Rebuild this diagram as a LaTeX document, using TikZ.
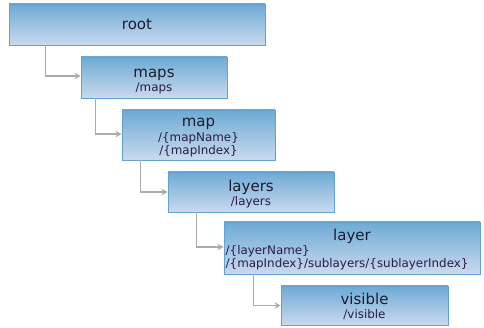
\documentclass[tikz,border=0pt]{standalone}
\usepackage{fontspec}
\setmainfont{DejaVu Sans}
\usetikzlibrary{arrows.meta}
\definecolor{boxtop}{HTML}{6DAAD4}
\definecolor{boxbot}{HTML}{CADAEE}
\definecolor{boxline}{HTML}{62A2D2}
\definecolor{conncol}{HTML}{ABABAB}
\definecolor{titlecol}{HTML}{1C1C30}
\definecolor{subcol}{HTML}{2A1C48}
\tikzset{
  box/.style={draw=boxline, line width=0.9pt, top color=boxtop, bottom color=boxbot, rectangle, inner sep=0pt},
  ttl/.style={font=\fontsize{15}{17}\selectfont, text=titlecol, inner sep=0pt},
  sub/.style={font=\fontsize{11.9}{13}\selectfont, text=subcol, inner sep=0pt, align=center},
  subl/.style={font=\fontsize{11.9}{13}\selectfont, text=subcol, inner sep=0pt, anchor=base west},
  conn/.style={draw=conncol, line width=1.8pt, -{Stealth[length=6pt,width=6.5pt]}},
}
\begin{document}
\begin{tikzpicture}[x=1pt,y=-1pt]
\useasboundingbox (0,0) rectangle (484,328);
\fill[white] (0,0) rectangle (484,328);
% boxes
\node[box, minimum width=256pt, minimum height=41pt] (root) at (137,24.5) {};
\node[box, minimum width=146pt, minimum height=41pt] (maps) at (154,77.5) {};
\node[box, minimum width=153pt, minimum height=50pt] (map) at (198.5,135) {};
\node[box, minimum width=166pt, minimum height=40pt] (layers) at (251,192) {};
\node[box, minimum width=256pt, minimum height=52pt] (layer) at (352,248) {};
\node[box, minimum width=167pt, minimum height=39pt] (visible) at (364.5,305.5) {};
% texts
\node[ttl, anchor=base] (rootT) at (137,29.5) {root};
\node[ttl, anchor=base] (mapsT) at (154,77.5) {maps};
\node[sub, anchor=base] (mapsS) at (154,91.5) {/maps};
\node[ttl, anchor=base] (mapT) at (198.5,127) {map};
\node[sub, anchor=base] (mapS1) at (198.5,141.5) {/\{mapName\}};
\node[sub, anchor=base] (mapS2) at (198.5,154.5) {/\{mapIndex\}};
\node[ttl, anchor=base] (layersT) at (251,192) {layers};
\node[sub, anchor=base] (layersS) at (251,206) {/layers};
\node[ttl, anchor=base] (layerT) at (352,241) {layer};
\node[subl] (layerS1) at (225.5,254.5) {/\{layerName\}};
\node[subl] (layerS2) at (225.5,268) {/\{mapIndex\}/sublayers/\{sublayerIndex\}};
\node[ttl, anchor=base] (visibleT) at (364.5,305) {visible};
\node[sub, anchor=base] (visibleS) at (364.5,319) {/visible};
% connectors
\draw[conn] ([xshift=37pt]root.south west) |- ([yshift=1.5pt]maps.west);
\draw[conn] ([xshift=15pt]maps.south west) |- ([yshift=1pt]map.west);
\draw[conn] ([xshift=19pt]map.south west) |- (layers.west);
\draw[conn] ([xshift=29pt]layers.south west) |- ([yshift=1pt]layer.west);
\draw[conn] ([xshift=30pt]layer.south west) |- (visible.west);
\end{tikzpicture}
\end{document}
